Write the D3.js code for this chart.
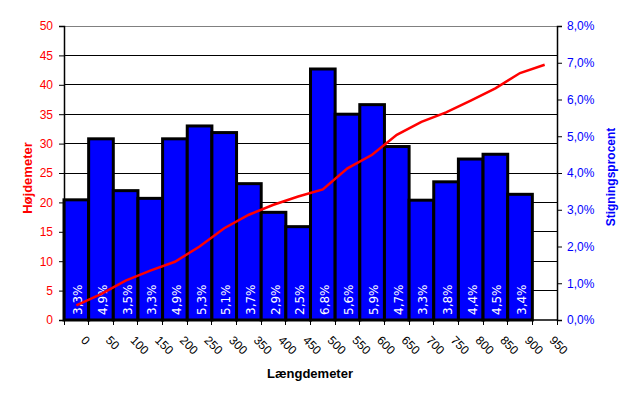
<!DOCTYPE html>
<html><head><meta charset="utf-8">
<script src="https://cdn.jsdelivr.net/npm/d3@7"></script>
<style>
html,body{margin:0;padding:0;background:#fff;}
svg{display:block;font-family:"Liberation Sans",Arial,sans-serif;}
</style></head>
<body>
<svg id="c" width="637" height="401"></svg>
<script>
const categories = ["0","50","100","150","200","250","300","350","400","450","500","550","600","650","700","750","800","850","900","950"];
const gradePct = [3.27,4.93,3.52,3.31,4.93,5.28,5.10,3.71,2.93,2.54,6.83,5.60,5.86,4.72,3.26,3.76,4.38,4.51,3.42];
const gradeLabels = ["3,3%","4,9%","3,5%","3,3%","4,9%","5,3%","5,1%","3,7%","2,9%","2,5%","6,8%","5,6%","5,9%","4,7%","3,3%","3,8%","4,4%","4,5%","3,4%"];
const heightM = [2.5,4.4,6.7,8.4,9.9,12.5,15.6,17.9,19.6,21.0,22.2,25.8,28.1,31.5,33.7,35.3,37.3,39.4,42.0,43.4];
const leftTicks = [0,5,10,15,20,25,30,35,40,45,50];
const rightTicks = [0,1,2,3,4,5,6,7,8];

const svg = d3.select("#c");
const L = 64, R = 557, T = 26, B = 320;

const x = d3.scaleBand().domain(categories).range([L, R]).padding(0);
const yL = d3.scaleLinear().domain([0, 50]).range([B, T]);
const yR = d3.scaleLinear().domain([0, 8]).range([B, T]);

// gridlines
svg.append("g").selectAll("line").data(leftTicks.filter(d => d > 0 && d < 50)).join("line")
  .attr("x1", L).attr("x2", R).attr("y1", d => yL(d)).attr("y2", d => yL(d))
  .attr("stroke", "#000").attr("stroke-width", 1).attr("shape-rendering", "crispEdges");
// top border gray
svg.append("line").attr("x1", L).attr("x2", R).attr("y1", T).attr("y2", T)
  .attr("stroke", "#808080").attr("shape-rendering", "crispEdges");

// bars
svg.append("g").selectAll("rect").data(gradePct).join("rect")
  .attr("x", (d, i) => x(categories[i]))
  .attr("width", x.bandwidth())
  .attr("y", d => yR(d))
  .attr("height", d => yR(0) - yR(d))
  .attr("fill", "#0000ff").attr("stroke", "#000").attr("stroke-width", 3);

// bar labels
svg.append("g").selectAll("text").data(gradeLabels).join("text")
  .attr("transform", (d, i) => `translate(${x(categories[i]) + x.bandwidth() / 2 + 6},${B - 5}) rotate(-90)`)
  .attr("fill", "#fff").attr("font-size", 12).attr("font-family", "DejaVu Sans, Verdana, sans-serif")
  .attr("text-anchor", "start")
  .text(d => d);

// line
const line = d3.line().x((d, i) => x(categories[i]) + x.bandwidth() / 2).y(d => yL(d));
svg.append("path").datum(heightM).attr("d", line)
  .attr("fill", "none").attr("stroke", "#ff0000").attr("stroke-width", 2.5);

// left axis
const gl = svg.append("g").attr("transform", `translate(${L},0)`)
  .call(d3.axisLeft(yL).tickValues(leftTicks).tickSize(5).tickPadding(6).tickFormat(d3.format("d")));
gl.select(".domain").attr("stroke", "#000").attr("stroke-width", 1.5);
gl.selectAll(".tick line").attr("stroke", "#000");
gl.selectAll("text").attr("fill", "#ff0000").attr("font-size", 12).attr("font-family", "Liberation Sans, Arial, sans-serif");

// right axis
const gr = svg.append("g").attr("transform", `translate(${R},0)`)
  .call(d3.axisRight(yR).tickValues(rightTicks).tickSize(5).tickPadding(5)
    .tickFormat(d => d3.format(".1f")(d).replace(".", ",") + "%"));
gr.select(".domain").attr("stroke", "#000").attr("stroke-width", 1.5);
gr.selectAll(".tick line").attr("stroke", "#000");
gr.selectAll("text").attr("fill", "#0000ff").attr("font-size", 12).attr("font-family", "Liberation Sans, Arial, sans-serif");

// bottom axis line + ticks at band boundaries
svg.append("line").attr("x1", L).attr("x2", R).attr("y1", B).attr("y2", B)
  .attr("stroke", "#000").attr("stroke-width", 1.5);
const bounds = categories.map(c => x(c)).concat([R]);
svg.append("g").selectAll("line").data(bounds).join("line")
  .attr("x1", d => d).attr("x2", d => d).attr("y1", B).attr("y2", B + 5)
  .attr("stroke", "#000").attr("shape-rendering", "crispEdges");
svg.append("g").selectAll("text").data(categories).join("text")
  .attr("transform", d => `translate(${x(d) + x.bandwidth() / 2 + 4},341) rotate(45)`)
  .attr("font-size", 12).attr("fill", "#000").attr("text-anchor", "start")
  .text(d => d);

// axis titles
svg.append("text").attr("transform", "translate(32,178) rotate(-90)")
  .attr("text-anchor", "middle").attr("font-weight", "bold").attr("font-size", 13)
  .attr("fill", "#ff0000").text("Højdemeter");
svg.append("text").attr("transform", "translate(615,177) rotate(-90)")
  .attr("text-anchor", "middle").attr("font-weight", "bold").attr("font-size", 12)
  .attr("fill", "#0000ff").text("Stigningsprocent");
svg.append("text").attr("x", 310).attr("y", 378)
  .attr("text-anchor", "middle").attr("font-weight", "bold").attr("font-size", 13)
  .attr("fill", "#000").text("Længdemeter");
</script>
</body></html>
